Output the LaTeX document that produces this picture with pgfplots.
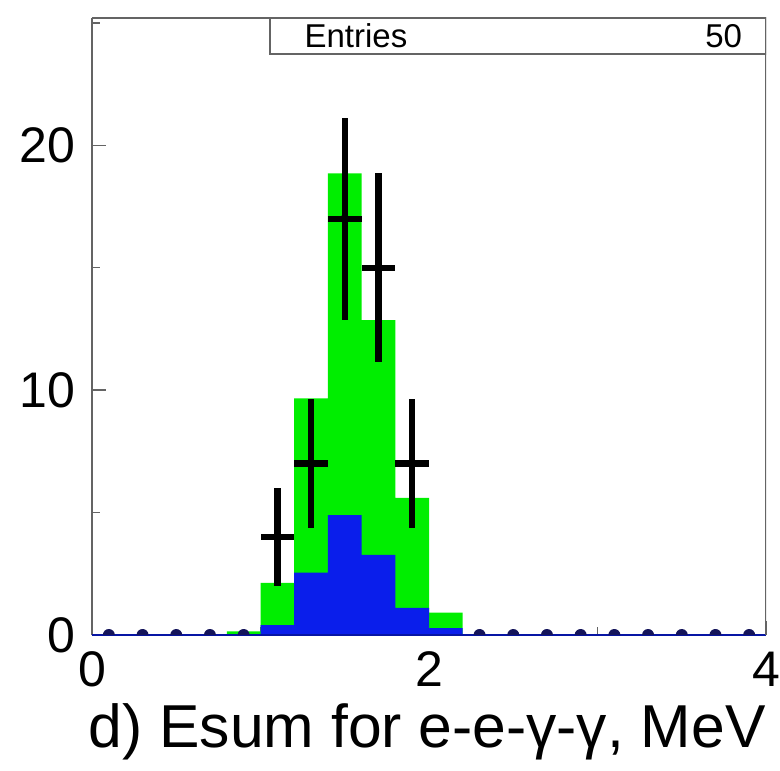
\documentclass[border=0pt]{standalone}
\usepackage{fontspec}
\setmainfont{Liberation Sans}
\usepackage{pgfplots}
\pgfplotsset{compat=1.18}
\definecolor{histgreen}{RGB}{0,238,0}
\definecolor{histblue}{RGB}{10,30,235}
\definecolor{navy}{RGB}{20,20,90}
\definecolor{framegray}{RGB}{100,100,100}
% half dot sitting on the baseline (empty bins)
\pgfdeclareplotmark{semi}{%
  \pgfpathmoveto{\pgfqpoint{\pgfplotmarksize}{0pt}}%
  \pgfpatharc{0}{180}{\pgfplotmarksize}%
  \pgfpathclose\pgfusepathqfill}

\begin{document}
\begin{tikzpicture}
\useasboundingbox (-46pt,-67.5pt) rectangle (344pt,317.5pt);
\begin{axis}[
  scale only axis,
  width=337pt, height=308.5pt,
  xmin=0, xmax=4, ymin=0, ymax=25.2,
  axis lines*=left,
  xtick={0,2,4}, ytick={0,10,20},
  extra x ticks={1,3}, extra y ticks={5,15,25},
  extra x tick labels={}, extra y tick labels={},
  extra tick style={major tick length=4pt},
  tick align=inside,
  major tick length=7pt,
  tick style={framegray, line width=0.7pt},
  axis line style={framegray, line width=1pt},
  /pgf/number format/assume math mode=true,
  tick label style={font=\fontsize{25}{25}\selectfont},
  yticklabel style={xshift=-5pt},
  xticklabel style={yshift=-5pt},
  xlabel={d) Esum for e-e-γ-γ, MeV},
  xlabel style={font=\fontsize{30.3}{30.3}\selectfont, inner sep=0pt,
    anchor=north east, at={(rel axis cs:1,0)}, yshift=-34pt},
]
% green histogram (total)
\addplot[ybar interval, fill=histgreen, draw=none] coordinates {
  (0.8,0.15) (1.0,2.13) (1.2,9.66) (1.4,18.85) (1.6,12.86) (1.8,5.6) (2.0,0.91) (2.2,0.91)
};
% blue histogram
\addplot[ybar interval, fill=histblue, draw=none] coordinates {
  (1.0,0.4) (1.2,2.55) (1.4,4.9) (1.6,3.27) (1.8,1.11) (2.0,0.28) (2.2,0.28)
};
\addplot[histblue!70!black, line width=1pt, const plot] coordinates {
  (0,0) (1.0,0) (2.2,0) (4,0)
};
% empty data bins
\addplot[only marks, mark=semi, mark size=3pt, navy] coordinates {
  (0.1,0) (0.3,0) (0.5,0) (0.7,0) (0.9,0)
  (2.3,0) (2.5,0) (2.7,0) (2.9,0) (3.1,0) (3.3,0) (3.5,0) (3.7,0) (3.9,0)
};
% data with errors
\addplot[only marks, mark=none, black,
  error bars/.cd, x dir=both, x explicit, y dir=both, y explicit,
  error mark=none, error bar style={line width=3.2pt}]
  coordinates {
  (1.1,4)  +- (0.1,2.0)
  (1.3,7)  +- (0.1,2.65)
  (1.5,17) +- (0.1,4.12)
  (1.7,15) +- (0.1,3.87)
  (1.9,7)  +- (0.1,2.65)
};
% frame and stats box
\draw[framegray, line width=1pt] (rel axis cs:0,1) -- (rel axis cs:1,1) -- (rel axis cs:1,0);
\draw[framegray, line width=0.8pt, fill=white] (rel axis cs:0.264,1) rectangle (rel axis cs:1,0.942);
\node[anchor=west, font=\fontsize{16.5}{16.5}\selectfont] at (rel axis cs:0.305,0.971) {Entries};
\node[anchor=east, font=\fontsize{16.5}{16.5}\selectfont] at (rel axis cs:0.975,0.971) {50};
\end{axis}
\end{tikzpicture}
\end{document}
